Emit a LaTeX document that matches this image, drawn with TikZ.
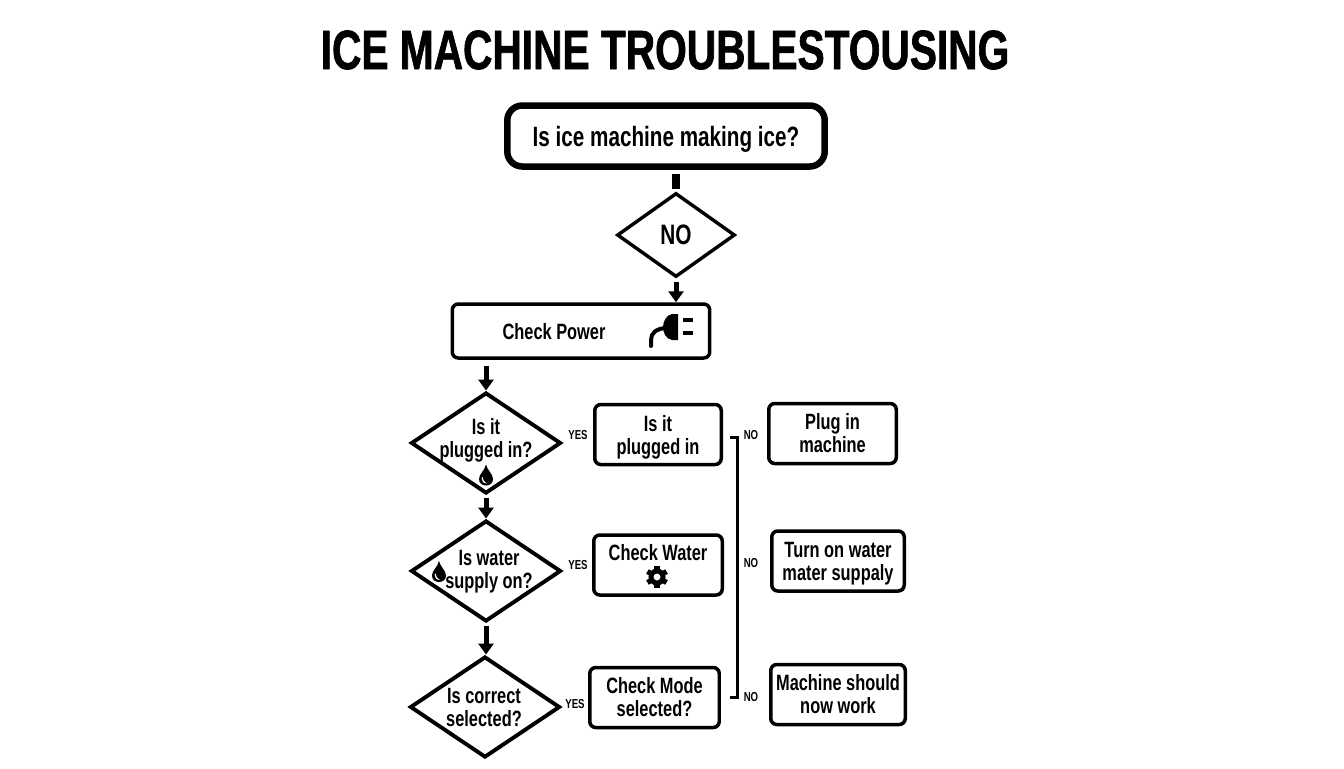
\documentclass[tikz,border=0pt]{standalone}
\usepackage{fontspec}
\setmainfont{Liberation Sans}[FakeStretch=.74]
\newfontfamily\titlefont{Liberation Sans Bold}[FakeStretch=.735, FakeBold=1.2]
\usetikzlibrary{shapes.geometric}
\usetikzlibrary{arrows.meta}
\tikzstyle{lbl}=[inner sep=0pt, align=center,
                    font=\bfseries\fontsize{12.6}{13.1}\selectfont]
\tikzstyle{tag}=[inner sep=0pt, font=\bfseries\fontsize{7.4}{8}\selectfont]
\tikzstyle{box}=[rectangle, rounded corners=1.2mm, draw=black, line width=.07cm,
                    inner sep=0pt, minimum width=2.55cm, minimum height=1.2cm]
\tikzstyle{decide}=[diamond, draw=black, line width=.078cm, inner sep=0pt,
                    aspect=1.48, minimum width=3cm, minimum height=2.02cm]
\tikzstyle{flow}=[line width=.1cm, -{Triangle[length=.22cm, width=.3cm]},
                    shorten <=.06cm]
\tikzset{
  dropicon/.pic={
    \fill (0,-10.5) .. controls (1,-5) and (7,-1) .. (7,4)
      .. controls (7,8) and (4,10.5) .. (0,10.5)
      .. controls (-4,10.5) and (-7,8) .. (-7,4)
      .. controls (-7,-1) and (-1,-5) .. (0,-10.5) -- cycle;
    \fill[white] (-4.5,3) .. controls (-4.5,6) and (-2.5,8.5) .. (1,8.5)
      .. controls (-1,7.5) and (-3,5.5) .. (-3.2,2) -- cycle;
  },
  gearicon/.pic={
    \draw[line width=.1cm] (0,0) circle (6);
    \foreach \a in {0,60,...,300}
      \fill[rotate=\a] (-2.6,5) rectangle (2.6,11);
  }
}
\begin{document}
\begin{tikzpicture}[x=.02cm, y=-.02cm]
    \useasboundingbox (0,0) rectangle (1344,768);
    \node[inner sep=0pt, font=\titlefont\fontsize{31.5}{32}\selectfont] (title)
      at (665,50) {ICE MACHINE TROUBLESTOUSING};

    \node[rectangle, rounded corners=3mm, draw=black, line width=.13cm, inner sep=0pt,
      minimum width=6.35cm, minimum height=1.22cm, text depth=0pt,
      font=\bfseries\fontsize{15.9}{16}\selectfont] (ask) at (666,136)
      {Is ice machine making ice?};
    \node[decide, line width=.068cm, minimum width=2.36cm, minimum height=1.68cm]
      (no) at (676,235) {};
    \node[lbl, font=\bfseries\fontsize{16}{16}\selectfont] (notext) at (676,235) {NO};
    \node[box, minimum width=5.15cm, minimum height=1.08cm] (power) at (581,331) {};
    \node[lbl] (powertext) at (554,332) {Check Power};

    \node[decide] (d1) at (486,443) {};
    \node[decide] (d2) at (486,571) {};
    \node[decide] (d3) at (485,707) {};
    \node[lbl] (d1text) at (486,440.5) {Is it\\plugged in?};
    \node[lbl] (d2text) at (489,572) {Is water\\supply on?};
    \node[lbl] (d3text) at (484,707) {Is correct\\selected?};

    \node[box, lbl, minimum width=2.53cm, text depth=0pt] (a1) at (658,434.5)
      {Is it\\plugged in};
    \node[box, minimum width=2.57cm] (a2) at (658,565) {};
    \node[lbl] (a2text) at (658,553) {Check Water};
    \node[box, lbl, minimum width=2.59cm] (a3) at (654.5,697.5) {Check Mode\\selected?};
    \node[box, lbl] (b1) at (832.5,433.5) {Plug in\\machine};
    \node[box, lbl, minimum width=2.65cm, text depth=0pt] (b2) at (838,561)
      {Turn on water\\mater suppaly};
    \node[box, lbl, minimum width=2.69cm] (b3) at (838,694.5) {Machine should\\now work};

    \node[tag] (y1) at (578,435) {YES};
    \node[tag] (y2) at (578,565) {YES};
    \node[tag] (y3) at (575,704) {YES};
    \node[tag] (n1) at (751,435) {NO};
    \node[tag] (n2) at (751,563) {NO};
    \node[tag] (n3) at (751,697) {NO};

    \draw[line width=.15cm, shorten <=.08cm, shorten >=.04cm]
      (ask.south -| no.north) -- (no.north);
    \draw[flow] (no.south) -- (no.south |- power.north);
    \draw[flow, shorten <=.12cm] (d1.north |- power.south) -- (d1.north);
    \foreach \from/\to in {d1/d2, d2/d3}
      \draw[flow] (\from.south) -- (\from.south |- \to.north);

    \coordinate (brtop) at (730,437);
    \coordinate (brbot) at (730,697);
    \draw[line width=.06cm] (brtop) -- (737,437) -- (737,697) -- (brbot);

    \pic at (486,475) {dropicon};
    \pic at (439,571.5) {dropicon};
    \pic at (657,577) {gearicon};

    \fill (678,314) -- (672,314) .. controls (666,315) and (663,322) .. (663,327)
      .. controls (663,333) and (666,339) .. (672,340) -- (678,340) -- cycle;
    \fill (683,318) rectangle (693,322);
    \fill (683,331) rectangle (693,335);
    \draw[line width=.08cm, line cap=round] (651,346) -- (651,340)
      .. controls (651,333) and (656,329) .. (665,328);
\end{tikzpicture}
\end{document}
